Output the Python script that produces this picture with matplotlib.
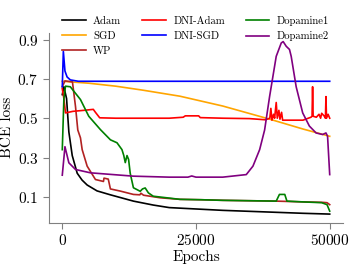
import matplotlib
matplotlib.use('Agg')
import matplotlib.pyplot as plt

plt.rcParams['font.family'] = 'serif'
plt.rcParams['font.serif'] = ['cmr10']
plt.rcParams['mathtext.fontset'] = 'cm'
plt.rcParams['axes.formatter.use_mathtext'] = True

# values
adam_x = [0, 300, 800, 1230, 1860, 2790, 3700, 4650, 6500, 9000, 13300, 17000, 20000, 25000, 30000, 35000, 40000, 45000, 50000]
adam_y = [0.62, 0.66, 0.6, 0.43, 0.31, 0.22, 0.185, 0.16, 0.13, 0.11, 0.078, 0.058, 0.045, 0.038, 0.031, 0.026, 0.021, 0.016, 0.012]

sgd_x = [0, 5000, 10000, 15000, 22000, 30000, 38800, 45000, 50000]
sgd_y = [0.688, 0.678, 0.663, 0.643, 0.612, 0.562, 0.495, 0.445, 0.408]

wp_x = [0, 500, 1900, 2470, 2900, 3400, 3720, 4650, 6200, 7700, 7800, 8600, 9000, 10850, 13300, 14500, 14700, 15200, 18300, 22000,
        26000, 30000, 35000, 40000, 45000, 48500, 49500, 50000]
wp_y = [0.66, 0.69, 0.685, 0.56, 0.44, 0.4, 0.34, 0.256, 0.188, 0.178, 0.195, 0.19, 0.14, 0.129, 0.112, 0.11, 0.118, 0.108, 0.095, 0.087,
        0.085, 0.082, 0.08, 0.078, 0.074, 0.072, 0.07, 0.06]

dniadam_x = [0, 300, 600, 2000, 4000, 5800, 6200, 7000, 10000, 15000, 20000, 22600, 23000, 25500, 25800, 30000, 35000, 38000,
             38800, 39000, 39200, 39500, 39700, 40000, 40200, 40500, 40700, 41000, 41200, 43000, 45000, 46500,
             46700, 46800, 46900, 47500, 48000, 48300, 48500, 49000, 49200, 49300, 49400, 49700, 50000]
dniadam_y = [0.65, 0.6, 0.527, 0.535, 0.54, 0.545, 0.53, 0.502, 0.5, 0.5, 0.5, 0.505, 0.512, 0.512, 0.503, 0.5, 0.498, 0.492,
             0.5, 0.55, 0.49, 0.52, 0.5, 0.58, 0.5, 0.54, 0.495, 0.53, 0.49, 0.49, 0.49, 0.505,
             0.51, 0.66, 0.51, 0.505, 0.52, 0.5, 0.525, 0.51, 0.5, 0.61, 0.5, 0.52, 0.5]

dnisgd_x = [0, 200, 500, 900, 1500, 3000, 10000, 20000, 30000, 40000, 50000]
dnisgd_y = [0.66, 0.84, 0.74, 0.71, 0.695, 0.688, 0.688, 0.688, 0.688, 0.688, 0.688]

dopa1_x = [0, 300, 600, 1500, 3400, 4950, 7130, 9000, 10230, 11160, 11500, 11780, 12100, 12400, 12700, 13300, 14570, 15000,
           15500, 16100, 17000, 22000, 26000, 30000, 35000, 40000, 40600, 41600, 42000, 45000, 48500, 49500, 50000]
dopa1_y = [0.34, 0.6, 0.663, 0.66, 0.595, 0.51, 0.442, 0.39, 0.375, 0.34, 0.31, 0.274, 0.31, 0.29, 0.22, 0.146, 0.128, 0.14,
           0.145, 0.12, 0.103, 0.087, 0.085, 0.082, 0.08, 0.078, 0.112, 0.112, 0.078, 0.074, 0.07, 0.06, 0.027]

dopa2_x = [0, 500, 1230, 2470, 5270, 13300, 20000, 23500, 24200, 25000, 30000, 34400, 35650, 36900, 37830, 38760, 40000,
           40940, 41300, 41870, 42480, 42800, 43730, 44950, 46200, 47450, 48680, 49300, 49600, 50000]
dopa2_y = [0.21, 0.355, 0.273, 0.239, 0.222, 0.205, 0.2, 0.2, 0.206, 0.2, 0.2, 0.213, 0.256, 0.34, 0.44, 0.61, 0.815,
           0.883, 0.89, 0.866, 0.85, 0.815, 0.66, 0.527, 0.46, 0.425, 0.417, 0.425, 0.408, 0.213]

fig = plt.figure(figsize=(3.57, 2.68), dpi=100)
ax = fig.add_axes([0.137, 0.169, 0.824, 0.708])

lw = 1.2
ax.plot(adam_x, adam_y, color='black', linewidth=lw, label='Adam')
ax.plot(sgd_x, sgd_y, color='orange', linewidth=lw, label='SGD')
ax.plot(wp_x, wp_y, color='#b22222', linewidth=lw, label='WP')
ax.plot(dniadam_x, dniadam_y, color='red', linewidth=lw, label='DNI-Adam')
ax.plot(dnisgd_x, dnisgd_y, color='blue', linewidth=lw, label='DNI-SGD')
ax.plot(dopa1_x, dopa1_y, color='green', linewidth=lw, label='Dopamine1')
ax.plot(dopa2_x, dopa2_y, color='purple', linewidth=lw, label='Dopamine2')

ax.set_xticks([0, 25000, 50000])
ax.set_yticks([0.1, 0.3, 0.5, 0.7, 0.9])
ax.tick_params(labelsize=11, length=4, color='gray')
ax.set_xlabel('Epochs', fontsize=11, labelpad=1)
ax.set_ylabel('BCE loss', fontsize=11, labelpad=2)
ax.spines['top'].set_visible(False)
ax.spines['right'].set_visible(False)
ax.spines['left'].set_color('gray')
ax.spines['bottom'].set_color('gray')

ax.legend(ncol=3, frameon=False, fontsize=7.7, loc='upper left', bbox_to_anchor=(0.174, 0.94),
          bbox_transform=fig.transFigure, handlelength=2.2, columnspacing=1.95,
          handletextpad=0.7, labelspacing=0.5, borderaxespad=0, borderpad=0)

plt.savefig('out.png', dpi=100)
plt.close()
